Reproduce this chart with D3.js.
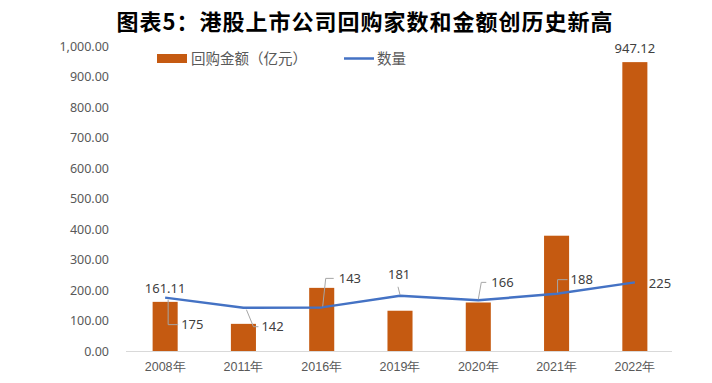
<!DOCTYPE html>
<html>
<head>
<meta charset="utf-8">
<script src="https://cdn.jsdelivr.net/npm/d3@7/dist/d3.min.js"></script>
<style>
  html, body { margin: 0; padding: 0; background: #fff; }
  svg { display: block; font-family: "Noto Sans CJK SC", "Noto Sans", sans-serif; }
</style>
</head>
<body>
<svg id="chart" width="712" height="383"></svg>
<script>
const titleText = "图表5：港股上市公司回购家数和金额创历史新高";
const categories = ["2008年", "2011年", "2016年", "2019年", "2020年", "2021年", "2022年"];
const amounts = [161.11, 89, 207, 132, 159, 378, 947.12];   // 回购金额（亿元）
const counts = [175, 142, 143, 181, 166, 188, 225];          // 数量
const yTicks = [0, 100, 200, 300, 400, 500, 600, 700, 800, 900, 1000];
const seriesNames = ["回购金额（亿元）", "数量"];
const amountLabelIdx = [0, 6]; // bars that carry a value label

// label layout (offsets from the point, px): [dx, dy, leader path type]
const countLabelLayout = [
  {dx: 16, dy: 27, leader: [[3, 2], [3, 27], [13, 27]]},
  {dx: 18, dy: 19, leader: [[3, 2], [10, 19], [15, 19]]},
  {dx: 17, dy: -29, leader: [[1, -1], [4, -29], [12, -29]]},
  {dx: -12, dy: -21, leader: [[0, -1], [-2, -9]]},
  {dx: 13, dy: -18, leader: [[0, -1], [3, -18], [8, -18]]},
  {dx: 14, dy: -14, leader: [[1, -1], [1, -14], [11, -14]]},
  {dx: 14, dy: 1, leader: null}
];

const orange = "#C55A11";
const blue = "#4472C4";
const svg = d3.select("#chart");

const margin = {left: 126, right: 38, top: 48, bottom: 32};
const W = 712, H = 383;

const x = d3.scaleBand().domain(categories)
  .range([margin.left, W - margin.right])
  .paddingInner(0.68).paddingOuter(0.34);
const y = d3.scaleLinear().domain([0, 1000]).range([351, 46]);

// title
svg.append("text")
  .attr("x", 365).attr("y", 30)
  .attr("text-anchor", "middle")
  .attr("font-size", 22).attr("font-weight", 700)
  .attr("letter-spacing", "1px")
  .attr("fill", "#000")
  .text(titleText);

// y axis
const yAxis = d3.axisLeft(y).tickValues(yTicks)
  .tickFormat(d3.format(",.2f")).tickSize(0).tickPadding(0);
const yg = svg.append("g").attr("transform", "translate(109,0)").call(yAxis);
yg.select(".domain").remove();
yg.selectAll("text").attr("fill", "#595959").attr("font-size", 12.5)
  .attr("font-family", "Noto Sans, sans-serif");

// bars
svg.append("g").selectAll("rect").data(amounts).join("rect")
  .attr("x", (d, i) => x(categories[i]))
  .attr("width", x.bandwidth())
  .attr("y", d => y(d))
  .attr("height", d => y(0) - y(d))
  .attr("fill", orange);

// x axis baseline
const xAxis = d3.axisBottom(x).tickSize(0).tickPadding(11);
const xg = svg.append("g").attr("transform", `translate(0,${y(0)})`).call(xAxis);
xg.select(".domain").attr("stroke", "#D9D9D9").attr("stroke-width", 1.2)
  .attr("d", `M${margin.left},0.5H${W - margin.right - 2}`);
xg.selectAll("text").attr("fill", "#595959").attr("font-size", 12.5);

// line
const cx = i => x(categories[i]) + x.bandwidth() / 2;
const line = d3.line().x((d, i) => cx(i)).y(d => y(d));
svg.append("path").datum(counts)
  .attr("d", line)
  .attr("fill", "none")
  .attr("stroke", blue).attr("stroke-width", 2.5)
  .attr("stroke-linejoin", "round");

// bar value labels
svg.append("g").selectAll("text").data(amountLabelIdx).join("text")
  .attr("x", i => cx(i))
  .attr("y", i => y(amounts[i]) - 9)
  .attr("text-anchor", "middle")
  .attr("font-size", 13).attr("fill", "#404040")
  .attr("font-family", "Noto Sans, sans-serif")
  .text(i => d3.format(".2f")(amounts[i]));

// count labels with leader lines
const lg = svg.append("g");
counts.forEach((d, i) => {
  const px = cx(i), py = y(d);
  const L = countLabelLayout[i];
  if (L.leader) {
    lg.append("path")
      .attr("d", d3.line()(L.leader.map(p => [px + p[0], py + p[1]])))
      .attr("fill", "none").attr("stroke", "#A6A6A6").attr("stroke-width", 1);
  }
  lg.append("text")
    .attr("x", px + L.dx).attr("y", py + L.dy)
    .attr("dy", "0.35em")
    .attr("text-anchor", "start")
    .attr("font-size", 13).attr("fill", "#404040")
    .attr("font-family", "Noto Sans, sans-serif")
    .text(d);
});

// legend
const leg = svg.append("g");
leg.append("rect").attr("x", 157).attr("y", 54).attr("width", 30).attr("height", 9).attr("fill", orange);
leg.append("text").attr("x", 191).attr("y", 58.5).attr("dy", "0.35em")
  .attr("font-size", 14.5).attr("fill", "#595959").text(seriesNames[0]);
leg.append("line").attr("x1", 344).attr("x2", 374).attr("y1", 58.5).attr("y2", 58.5)
  .attr("stroke", blue).attr("stroke-width", 2.5);
leg.append("text").attr("x", 377).attr("y", 58.5).attr("dy", "0.35em")
  .attr("font-size", 14.5).attr("fill", "#595959").text(seriesNames[1]);
</script>
</body>
</html>
